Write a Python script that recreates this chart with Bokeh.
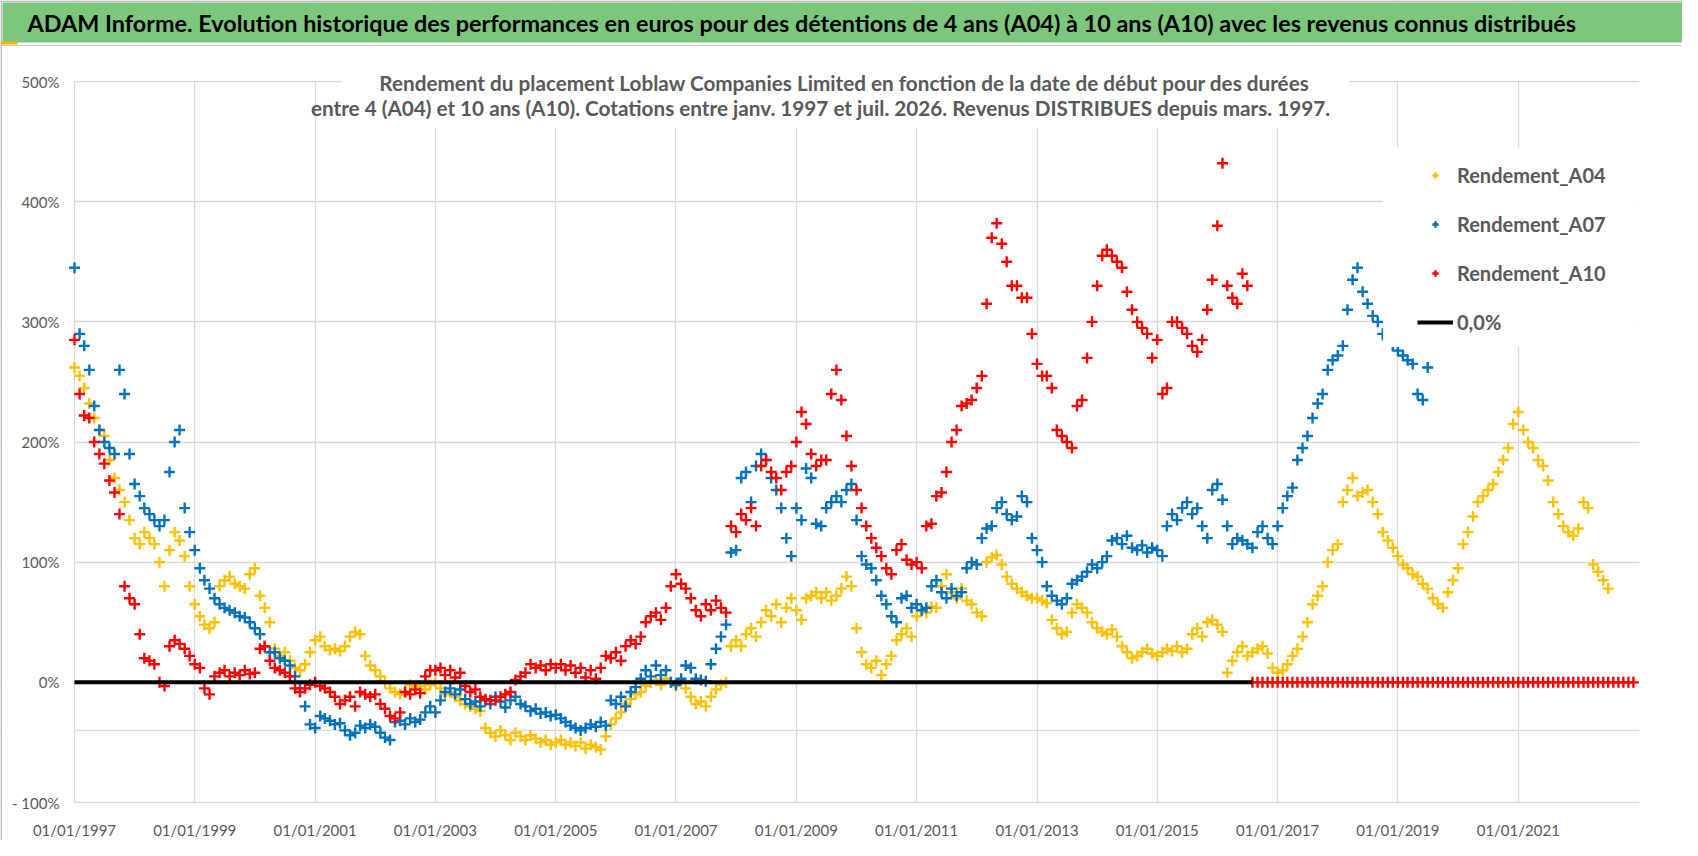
import pandas as pd
from bokeh.plotting import figure
from bokeh.models import (Range1d, FixedTicker, DatetimeTickFormatter, Span, BoxAnnotation,
                          Label, Legend, LegendItem)
from bokeh.embed import file_html
from bokeh.resources import INLINE

# ---------------- texts ----------------
TITLE = ("ADAM Informe. Evolution historique des performances en euros pour des détentions "
         "de 4 ans (A04) à 10 ans (A10) avec les revenus connus distribués")
SUBTITLE_1 = "Rendement du placement Loblaw Companies Limited en fonction de la date de début pour des durées"
SUBTITLE_2 = ("entre 4 (A04) et 10 ans (A10). Cotations entre janv. 1997 et juil. 2026. "
              "Revenus DISTRIBUES depuis mars. 1997.")
SERIES_NAMES = ["Rendement_A04", "Rendement_A07", "Rendement_A10"]
ZERO_NAME = "0,0%"

# ---------------- data (monthly readings, in %) ----------------
SERIES_START = "1997-01-01"

A04 = [
    262, 255, 245, 232, 220, 210, 205, 185, 170, 160, 150, 135,   # 1997
    120, 115, 125, 120, 115, 100, 80, 110, 125, 118, 105, 80,     # 1998
    65, 55, 48, 45, 50, 80, 85, 88, 82, 80, 78, 90,               # 1999
    95, 72, 62, 50, 28, 22, 25, 18, 12, 10, 15, 25,               # 2000
    35, 38, 30, 27, 28, 26, 30, 38, 42, 40, 22, 14,               # 2001
    10, 5, 0, -5, -8, -10, -8, -2, -4, -3, -6, -2,                # 2002
    0, -5, -10, -8, -12, -15, -18, -20, -22, -24, -38, -42,       # 2003
    -45, -40, -44, -48, -42, -45, -48, -44, -47, -50, -48, -52,   # 2004
    -50, -48, -52, -50, -53, -50, -55, -52, -54, -56, -45, -35,   # 2005
    -30, -25, -18, -14, -10, -8, -3, 0, 2, -2, 3, 0,              # 2006
    -3, 2, -5, -12, -18, -16, -20, -12, -6, -2, 0, 30,            # 2007
    35, 30, 40, 45, 38, 50, 60, 55, 65, 50, 62, 70,               # 2008
    60, 52, 70, 72, 75, 70, 75, 68, 72, 78, 88, 80,               # 2009
    45, 25, 15, 12, 18, 6, 15, 22, 35, 40, 45, 38,                # 2010
    55, 60, 58, 63, 62, 80, 90, 75, 70, 78, 68, 65,               # 2011
    58, 55, 100, 104, 106, 98, 88, 82, 78, 75, 72, 70,            # 2012
    70, 68, 66, 52, 45, 40, 42, 58, 65, 62, 58, 50,               # 2013
    45, 42, 40, 44, 38, 30, 25, 20, 22, 25, 28, 24,               # 2014
    22, 25, 28, 26, 30, 25, 28, 40, 45, 38, 50, 52,               # 2015
    48, 42, 8, 18, 25, 30, 22, 25, 28, 30, 24, 12,                # 2016
    8, 10, 15, 22, 28, 38, 50, 65, 72, 80, 100, 110,              # 2017
    115, 150, 160, 170, 155, 158, 160, 150, 140, 125, 118, 112,   # 2018
    105, 98, 95, 90, 88, 82, 78, 70, 65, 62, 75, 85,              # 2019
    95, 115, 125, 138, 150, 155, 160, 165, 175, 185, 195, 215,    # 2020
    225, 210, 200, 195, 185, 180, 168, 150, 140, 130, 125, 122,   # 2021
    128, 150, 145, 98, 92, 85, 78,                                # 2022
]

A07 = [
    345, 290, 280, 260, 230, 210, 200, 195, 190, 260, 240, 190,   # 1997
    165, 155, 145, 140, 135, 130, 135, 175, 200, 210, 145, 125,   # 1998
    110, 95, 85, 78, 70, 65, 62, 60, 58, 55, 54, 50,              # 1999
    45, 40, 30, 25, 25, 20, 18, 14, 5, -5, -20, -35,              # 2000
    -38, -28, -30, -32, -35, -34, -40, -44, -42, -36, -38, -35,   # 2001
    -37, -42, -46, -48, -33, -32, -35, -30, -33, -31, -25, -20,   # 2002
    -25, -15, -8, -5, -10, -6, -14, -18, -16, -20, -15, -18,      # 2003
    -12, -16, -21, -15, -12, -18, -20, -24, -22, -26, -25, -28,   # 2004
    -27, -30, -33, -36, -38, -40, -38, -35, -37, -33, -36, -15,   # 2005
    -18, -12, -20, -8, -4, 3, 10, 5, 14, 6, 10, 0,                # 2006
    -2, 3, 14, 12, 3, 2, 1, 15, 28, 38, 48, 108,                  # 2007
    110, 170, 175, 150, 180, 190, 185, 170, 160, 145, 120, 105,   # 2008
    145, 135, 178, 170, 132, 130, 145, 150, 155, 150, 160, 165,   # 2009
    135, 105, 98, 95, 85, 72, 65, 55, 50, 70, 72, 62,             # 2010
    65, 60, 62, 80, 85, 75, 70, 78, 72, 75, 95, 100,              # 2011
    98, 120, 128, 130, 145, 150, 140, 135, 138, 155, 150, 120,    # 2012
    110, 100, 80, 72, 68, 65, 70, 82, 85, 88, 92, 98,             # 2013
    95, 100, 105, 118, 120, 115, 122, 112, 110, 114, 108, 112,    # 2014
    110, 105, 130, 140, 135, 145, 150, 140, 145, 130, 120, 160,   # 2015
    165, 152, 130, 115, 120, 118, 115, 112, 125, 130, 120, 115,   # 2016
    130, 145, 155, 162, 185, 195, 205, 220, 232, 240, 260, 268,   # 2017
    272, 280, 310, 335, 345, 325, 315, 305, 300, 290, 285, 280,   # 2018
    276, 272, 268, 265, 240, 235, 262,                            # 2019
]

A10 = [
    285, 240, 222, 220, 200, 190, 182, 168, 158, 140, 80, 70,     # 1997
    65, 40, 20, 18, 15, 0, -3, 30, 35, 32, 28, 22,                # 1998
    15, 12, -5, -10, 5, 8, 10, 5, 8, 6, 10, 7,                    # 1999
    8, 28, 30, 18, 12, 10, 8, 5, -5, -8, -5, -2,                  # 2000
    0, -3, -5, -8, -12, -18, -15, -12, -20, -8, -10, -12,         # 2001
    -10, -18, -22, -28, -30, -25, -8, -10, -6, -9, 5, 10,         # 2002
    10, 12, 6, 10, 4, 8, -3, -8, -6, -12, -14, -15,               # 2003
    -15, -12, -10, -8, 2, 5, 8, 15, 12, 14, 10, 15,               # 2004
    12, 15, 10, 14, 8, 12, 4, 10, 3, 12, 22, 20,                  # 2005
    25, 18, 30, 35, 32, 38, 50, 55, 58, 52, 62, 80,               # 2006
    90, 82, 78, 70, 60, 55, 65, 60, 68, 62, 58, 130,              # 2007
    125, 140, 135, 145, 130, 180, 185, 175, 170, 160, 175, 180,   # 2008
    200, 225, 215, 190, 180, 185, 185, 240, 260, 235, 205, 180,   # 2009
    160, 145, 130, 120, 112, 105, 95, 90, 110, 115, 102, 98,      # 2010
    100, 95, 130, 132, 155, 158, 175, 200, 210, 230, 232, 235,    # 2011
    245, 255, 315, 370, 382, 365, 350, 330, 330, 320, 320, 290,   # 2012
    265, 255, 255, 245, 210, 205, 200, 195, 230, 235, 270, 300,   # 2013
    330, 355, 360, 355, 350, 345, 325, 310, 300, 295, 290, 270,   # 2014
    285, 240, 245, 300, 300, 295, 290, 280, 275, 285, 310, 335,   # 2015
    380, 432, 330, 320, 315, 340, 330, 0, 0, 0, 0, 0,             # 2016
    0, 0, 0, 0, 0, 0, 0, 0, 0, 0, 0, 0,                           # 2017
    0, 0, 0, 0, 0, 0, 0, 0, 0, 0, 0, 0,                           # 2018
    0, 0, 0, 0, 0, 0, 0, 0, 0, 0, 0, 0,                           # 2019
    0, 0, 0, 0, 0, 0, 0, 0, 0, 0, 0, 0,                           # 2020
    0, 0, 0, 0, 0, 0, 0, 0, 0, 0, 0, 0,                           # 2021
    0, 0, 0, 0, 0, 0, 0, 0, 0, 0, 0, 0,                           # 2022
]

ZERO_LINE_DATES = ["1997-01-01", "2016-08-01"]
ZERO_LINE_VALUES = [0, 0]

X_TICK_DATES = ["1997-01-01", "1999-01-01", "2001-01-01", "2003-01-01", "2005-01-01", "2007-01-01",
                "2009-01-01", "2011-01-01", "2013-01-01", "2015-01-01", "2017-01-01", "2019-01-01",
                "2021-01-01"]
X_START, X_END = "1997-01-01", "2023-01-01"
Y_TICKS = [-100, 0, 100, 200, 300, 400, 500]
Y_LABELS = ["- 100%", "0%", "100%", "200%", "300%", "400%", "500%"]
EXTRA_GRID_Y = -40

# ---------------- style / layout ----------------
C_A04, C_A07, C_A10 = "#FFC000", "#0070C0", "#FF0000"
GRID = "#D9D9D9"
TXT = "#595959"
GREEN = "#7DC67E"
GOLD = "#F5B800"
BORDER = "#A6A6A6"
FONT = "Lato"

W, H = 1682, 840
PLOT_LEFT, PLOT_RIGHT = 74, 1638   # plot area in canvas pixels
PLOT_TOP, PLOT_BOTTOM = 81, 802


def ms(d):
    return pd.Timestamp(d).value // 10**6


def sx(ax):  # canvas x -> screen units (frame == whole canvas)
    return ax


def sy(ay):  # canvas y (down) -> screen units (up)
    return H - ay


x0, x1 = ms(X_START), ms(X_END)
x_per_px = (x1 - x0) / (PLOT_RIGHT - PLOT_LEFT)
y_per_px = (Y_TICKS[-1] - Y_TICKS[0]) / (PLOT_BOTTOM - PLOT_TOP)

p = figure(width=W, height=H, x_axis_type="datetime",
           x_range=Range1d(x0 - PLOT_LEFT * x_per_px, x1 + (W - PLOT_RIGHT) * x_per_px),
           y_range=Range1d(Y_TICKS[0] - (H - PLOT_BOTTOM) * y_per_px,
                           Y_TICKS[-1] + PLOT_TOP * y_per_px),
           toolbar_location=None, output_backend="svg", title=None, min_border=0)
p.outline_line_color = None
p.background_fill_color = "white"
p.border_fill_color = "white"

# axes drawn inside the canvas-wide frame
p.xaxis.fixed_location = Y_TICKS[0]
p.yaxis.fixed_location = x0
p.xaxis.ticker = FixedTicker(ticks=[ms(d) for d in X_TICK_DATES])
fmt = "%d/%m/%Y"
p.xaxis.formatter = DatetimeTickFormatter(years=fmt, months=fmt, days=fmt, hours=fmt,
                                          minutes=fmt, seconds=fmt, minsec=fmt, hourmin=fmt,
                                          milliseconds=fmt, microseconds=fmt)
p.yaxis.ticker = FixedTicker(ticks=Y_TICKS)
p.yaxis.major_label_overrides = {tk: lb for tk, lb in zip(Y_TICKS, Y_LABELS)}
for ax in (p.xaxis, p.yaxis):
    ax.axis_line_color = None
    ax.major_tick_line_color = None
    ax.minor_tick_line_color = None
    ax.major_tick_in = 0
    ax.major_tick_out = 0
    ax.major_label_text_font = FONT
    ax.major_label_text_font_size = "15px"
    ax.major_label_text_color = TXT
p.yaxis.major_label_standoff = 15
p.xaxis.major_label_standoff = 18

p.xgrid.grid_line_color = GRID
p.ygrid.grid_line_color = GRID
p.xgrid.grid_line_width = 1.3
p.ygrid.grid_line_width = 1.3
p.add_layout(Span(location=EXTRA_GRID_Y, dimension="width", line_color=GRID,
                  line_width=1.3, level="underlay"))


def sbox(cx0, cx1, cy0, cy1, color, level="underlay"):
    p.add_layout(BoxAnnotation(left=sx(cx0), right=sx(cx1), top=sy(cy0), bottom=sy(cy1),
                               left_units="screen", right_units="screen",
                               top_units="screen", bottom_units="screen",
                               fill_color=color, fill_alpha=1, line_alpha=0, level=level))


# white margins hiding grid lines outside the plot area
sbox(0, W, 0, PLOT_TOP - 0.8, "white")
sbox(0, W, PLOT_BOTTOM + 0.8, H, "white")
sbox(0, PLOT_LEFT - 0.7, 0, H, "white")
sbox(PLOT_RIGHT + 0.7, W, 0, H, "white")

# title strip and frame decorations
sbox(0, W, 0, 1.2, BORDER)
sbox(0, 1.2, 0, H, BORDER)
sbox(2, W, 2, 42, GREEN)
sbox(0, 17, 41, 44, GOLD)
sbox(1.2, W, 44.5, 45.5, "#D0D0D0")

# series
d04 = pd.date_range(SERIES_START, periods=len(A04), freq="MS")
d07 = pd.date_range(SERIES_START, periods=len(A07), freq="MS")
d10 = pd.date_range(SERIES_START, periods=len(A10), freq="MS")
MK = dict(marker="cross", size=11, line_width=2.4)
r04 = p.scatter(d04, A04, line_color=C_A04, **MK)
r07 = p.scatter(d07, A07, line_color=C_A07, **MK)
r10 = p.scatter(d10, A10, line_color=C_A10, **MK)
rz = p.line(pd.to_datetime(ZERO_LINE_DATES), ZERO_LINE_VALUES, line_color="black", line_width=4)

# white boxes behind the subtitle and the legend (as in the reference)
p.add_layout(BoxAnnotation(left=pd.Timestamp("2001-06-10"), right=pd.Timestamp("2018-03-10"),
                           bottom=461, top=Y_TICKS[-1] + 3, fill_color="white", fill_alpha=1,
                           line_alpha=0))
p.add_layout(BoxAnnotation(left=pd.Timestamp("2018-10-03"), right=pd.Timestamp(X_END),
                           bottom=279, top=445, fill_color="white", fill_alpha=1,
                           line_alpha=0))

legend = Legend(items=[LegendItem(label=SERIES_NAMES[0], renderers=[r04]),
                       LegendItem(label=SERIES_NAMES[1], renderers=[r07]),
                       LegendItem(label=SERIES_NAMES[2], renderers=[r10]),
                       LegendItem(label=ZERO_NAME, renderers=[rz])],
                location=(sx(1407), sy(345)), margin=0, padding=10, spacing=23,
                glyph_width=36, glyph_height=16, label_height=26, label_standoff=4,
                label_text_font=FONT, label_text_font_style="bold",
                label_text_font_size="20px", label_text_color=TXT,
                background_fill_alpha=0, border_line_alpha=0)
p.add_layout(legend, "center")

p.add_layout(Label(x=sx(27), y=sy(22.5), x_units="screen", y_units="screen", text=TITLE,
                   text_font=FONT, text_font_style="bold", text_font_size="23.4px",
                   text_color="black", text_align="left", text_baseline="middle"))
p.add_layout(Label(x=sx(844), y=sy(82), x_units="screen", y_units="screen", text=SUBTITLE_1,
                   text_font=FONT, text_font_style="bold", text_font_size="20.7px",
                   text_color=TXT, text_align="center", text_baseline="middle"))
p.add_layout(Label(x=sx(820), y=sy(107), x_units="screen", y_units="screen", text=SUBTITLE_2,
                   text_font=FONT, text_font_style="bold", text_font_size="20.7px",
                   text_color=TXT, text_align="center", text_baseline="middle"))

open("out.html", "w").write(file_html(p, INLINE))
